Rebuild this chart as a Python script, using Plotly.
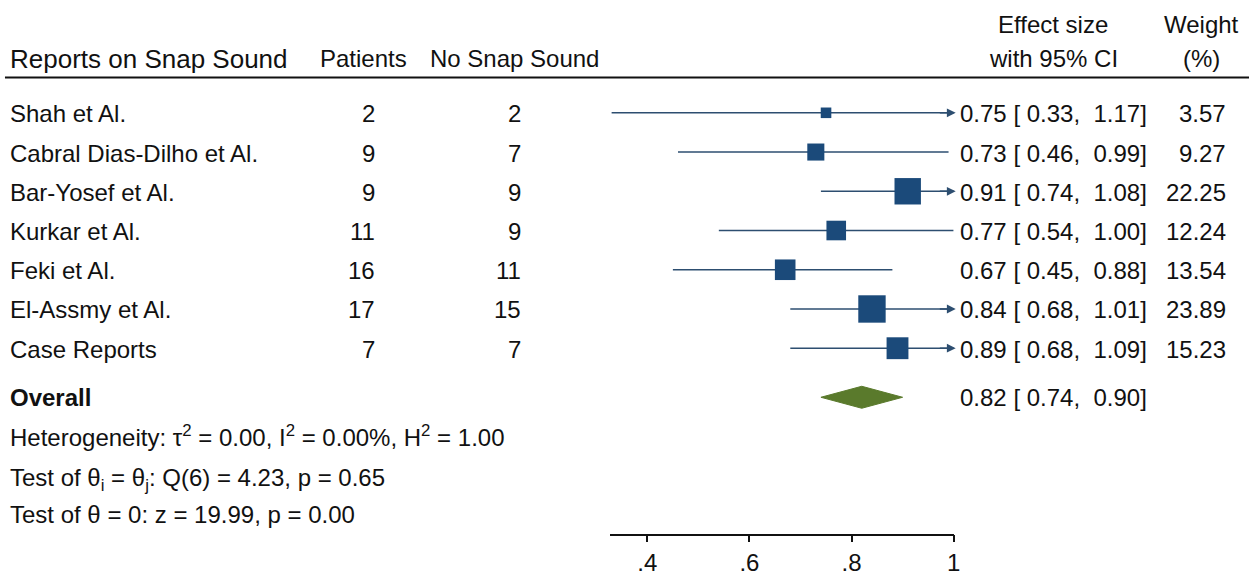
import plotly.graph_objects as go
import math

# Study data
studies = ["Shah et Al.", "Cabral Dias-Dilho et Al.", "Bar-Yosef et Al.", "Kurkar et Al.",
           "Feki et Al.", "El-Assmy et Al.", "Case Reports"]
patients = [2, 9, 9, 11, 16, 17, 7]
no_snap = [2, 7, 9, 9, 11, 15, 7]
effect = [0.75, 0.73, 0.91, 0.77, 0.67, 0.84, 0.89]
ci_low = [0.33, 0.46, 0.74, 0.54, 0.45, 0.68, 0.68]
ci_high = [1.17, 0.99, 1.08, 1.00, 0.88, 1.01, 1.09]
weights = [3.57, 9.27, 22.25, 12.24, 13.54, 23.89, 15.23]

overall_es = 0.82
overall_low = 0.74
overall_high = 0.90

tick_vals = [0.4, 0.6, 0.8, 1.0]
tick_text = [".4", ".6", ".8", "1"]

W, H = 1256, 576
X_MIN, X_MAX = 0.326, 1.0
FONT = "Liberation Sans, Arial, sans-serif"
FS = 24
LINE_COL = "#2d4e70"
BOX_COL = "#1b4a7a"
DIAM_COL = "#5a7a2c"

# row layout: row i sits at pixel 115 + 40*i
ROW0, STEP = 115, 40
def row_of(pix):
    return (pix - ROW0) / STEP

rows = list(range(len(studies)))
overall_row = row_of(405)

fig = go.Figure()

# confidence interval lines, clipped at the axis maximum
lx, ly = [], []
for r, lo, hi in zip(rows, ci_low, ci_high):
    lx += [max(lo, X_MIN), min(hi, X_MAX), None]
    ly += [r, r, None]
fig.add_trace(go.Scatter(x=lx, y=ly, mode="lines",
                         line=dict(color=LINE_COL, width=1.6),
                         hoverinfo="skip", showlegend=False))

# weighted squares
fig.add_trace(go.Scatter(x=effect, y=rows, mode="markers",
                         marker=dict(symbol="square", color=BOX_COL, opacity=1,
                                     size=[5.6 * math.sqrt(w) for w in weights],
                                     line=dict(width=0)),
                         showlegend=False, cliponaxis=False))

# overall diamond
dh = 0.28
fig.add_trace(go.Scatter(
    x=[overall_low, overall_es, overall_high, overall_es, overall_low],
    y=[overall_row, overall_row - dh, overall_row, overall_row + dh, overall_row],
    mode="lines", fill="toself", fillcolor=DIAM_COL,
    line=dict(color=DIAM_COL, width=1), showlegend=False))

annotations = []

# arrowheads for intervals running past the axis
for r, hi in zip(rows, ci_high):
    if hi > X_MAX:
        annotations.append(dict(x=X_MAX + 0.004, y=r, ax=X_MAX - 0.03, ay=r,
                                xref="x", yref="y", axref="x", ayref="y",
                                text="", showarrow=True, arrowhead=2, arrowsize=1.1,
                                arrowwidth=1.6, arrowcolor=LINE_COL, standoff=0))

def txt(x, y, s, anchor="left", size=FS, shift=0):
    annotations.append(dict(x=x / W, y=y, xref="paper", yref="y", text=s,
                            showarrow=False, xanchor=anchor, yanchor="middle",
                            yshift=shift,
                            font=dict(family=FONT, size=size, color="#111111")))

def fmt(v):
    return ("%5.2f" % v).replace(" ", "\u00a0")

# headers
txt(8, row_of(60), "Reports on Snap Sound", size=26)
txt(366, row_of(60), "Patients", "center")
txt(517, row_of(60), "No Snap Sound", "center")
txt(1059, row_of(25), "Effect size", "center")
txt(1059, row_of(60), "with 95% CI", "center")
txt(1208, row_of(25), "Weight", "center")
txt(1208, row_of(60), "(%)", "center")

for r, name, p, n, e, lo, hi, w in zip(rows, studies, patients, no_snap, effect,
                                       ci_low, ci_high, weights):
    txt(8, r, name, shift=-1)
    txt(379, r, str(p), "right", shift=-1)
    txt(526, r, str(n), "right", shift=-1)
    txt(963, r, f"{e:.2f} [{fmt(lo)},\u00a0{fmt(hi)}]", shift=-1)
    txt(1235, r, f"{w:.2f}", "right", shift=-1)

txt(8, overall_row, "<b>Overall</b>")
txt(963, overall_row, f"{overall_es:.2f} [{fmt(overall_low)},\u00a0{fmt(overall_high)}]")
txt(8, row_of(445), "Heterogeneity: \u03c4<sup>2</sup> = 0.00, I<sup>2</sup> = 0.00%, H<sup>2</sup> = 1.00",
    shift=1)
txt(8, row_of(485), "Test of \u03b8<sub>i</sub> = \u03b8<sub>j</sub>: Q(6) = 4.23, p = 0.65", shift=-4)
txt(8, row_of(525), "Test of \u03b8 = 0: z = 19.99, p = 0.00")

shapes = [dict(type="line", xref="paper", yref="paper",
               x0=5 / W, x1=1.0, y0=(H - 79) / H, y1=(H - 79) / H,
               line=dict(color="#111111", width=1.8))]

fig.update_layout(
    width=W, height=H,
    margin=dict(l=0, r=0, t=0, b=0),
    paper_bgcolor="white", plot_bgcolor="white",
    annotations=annotations, shapes=shapes,
    xaxis=dict(domain=[613 / W, 959 / W], range=[X_MIN, X_MAX],
               anchor="free", position=(H - 545) / H,
               showgrid=False, zeroline=False, showline=True,
               linecolor="#111111", linewidth=1.5,
               ticks="outside", ticklen=7, tickwidth=1.5, tickcolor="#111111",
               tickvals=tick_vals, ticktext=tick_text,
               tickfont=dict(family=FONT, size=FS, color="#111111")),
    yaxis=dict(domain=[0, 1], range=[row_of(H), row_of(0)],
               visible=False, showgrid=False, zeroline=False),
)

fig.write_html("out.html")
